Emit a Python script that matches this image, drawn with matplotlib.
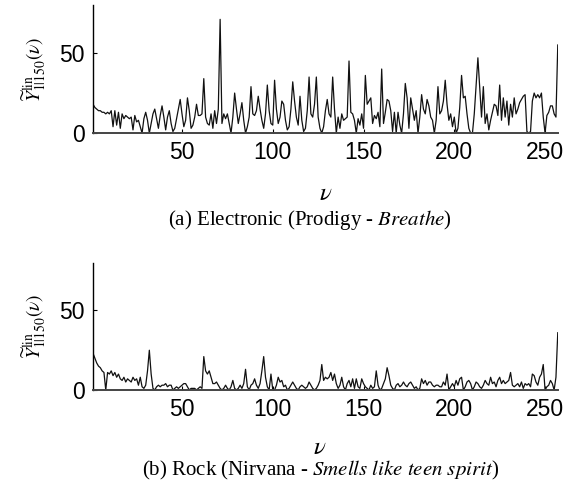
import numpy as np
import matplotlib
matplotlib.use("Agg")
import matplotlib.pyplot as plt

plt.rcParams['mathtext.fontset'] = 'stix'

# spectrum values, nu = 1..257
electronic = [
    18, 16, 15, 14, 14, 13, 13, 12, 13, 12,
    14, 4, 14, 5, 13, 3, 12, 9, 11, 10,
    9, 10, 2, 11, 7, 8, 4, 0, 9, 13,
    8, 0, 6, 12, 15, 9, 3, 11, 17, 10,
    2, 10, 14, 6, 1, 3, 9, 15, 21, 12,
    4, 8, 22, 14, 3, 5, 10, 18, 11, 11,
    12, 34, 10, 6, 5, 12, 3, 14, 6, 15,
    71, 6, 12, 9, 12, 6, 0, 10, 25, 15,
    6, 12, 19, 8, 0, 4, 10, 29, 12, 11,
    14, 23, 15, 8, 3, 12, 30, 14, 6, 5,
    33, 15, 6, 10, 20, 18, 8, 2, 4, 15,
    32, 20, 10, 5, 23, 8, 1, 3, 14, 35,
    12, 10, 18, 35, 10, 3, 0, 4, 14, 21,
    12, 10, 35, 15, 0, 10, 3, 12, 8, 9,
    10, 45, 13, 12, 8, 0, 9, 5, 12, 3,
    36, 18, 20, 22, 6, 11, 9, 13, 4, 40,
    6, 13, 21, 20, 14, 1, 13, 0, 13, 5,
    0, 12, 31, 22, 3, 22, 15, 8, 14, 0,
    10, 24, 15, 12, 21, 17, 10, 8, 0, 8,
    29, 12, 14, 20, 33, 18, 8, 12, 4, 10,
    0, 3, 16, 36, 22, 23, 12, 3, 0, 0,
    12, 30, 47, 29, 10, 29, 6, 12, 2, 8,
    13, 18, 17, 11, 30, 8, 22, 10, 20, 5,
    18, 10, 22, 12, 15, 19, 21, 23, 24, 1,
    0, 1, 20, 25, 22, 24, 22, 25, 10, 0,
    11, 13, 17, 17, 12, 10, 55,
]

rock = [
    23, 20, 17, 15, 14, 12, 11, 0, 11, 10,
    12, 9, 11, 8, 10, 7, 6, 8, 5, 7,
    6, 5, 8, 6, 7, 3, 8, 2, 1, 3,
    12, 25, 10, 1, 0, 2, 3, 2, 3, 3,
    4, 2, 3, 3, 0, 1, 2, 1, 2, 3,
    4, 4, 2, 0, 1, 1, 1, 0, 1, 2,
    1, 21, 12, 10, 12, 8, 4, 4, 5, 3,
    1, 0, 1, 3, 1, 0, 2, 6, 1, 0,
    1, 3, 1, 4, 13, 2, 0, 3, 4, 7,
    3, 1, 4, 12, 21, 8, 2, 0, 10, 0,
    0, 3, 8, 5, 6, 2, 3, 0, 1, 3,
    5, 3, 1, 0, 2, 3, 2, 1, 2, 5,
    3, 1, 0, 1, 3, 6, 16, 6, 8, 7,
    8, 11, 6, 10, 4, 1, 3, 8, 2, 0,
    4, 6, 2, 7, 1, 7, 2, 1, 7, 4,
    2, 1, 0, 3, 1, 2, 12, 3, 0, 1,
    4, 7, 14, 9, 3, 1, 0, 3, 4, 2,
    3, 5, 3, 2, 4, 5, 3, 1, 2, 0,
    1, 7, 4, 6, 3, 5, 5, 3, 2, 3,
    3, 2, 2, 5, 3, 10, 0, 2, 4, 2,
    6, 3, 7, 8, 0, 2, 5, 6, 4, 0,
    2, 5, 4, 2, 1, 3, 6, 4, 3, 8,
    4, 5, 2, 6, 8, 4, 6, 4, 5, 6,
    11, 3, 2, 3, 4, 2, 5, 1, 4, 3,
    4, 2, 10, 9, 5, 3, 8, 10, 16, 0,
    2, 3, 6, 4, 0, 8, 36,
]

captions = [
    r"(a) Electronic (Prodigy - $\it{Breathe}$)",
    r"(b) Rock (Nirvana - $\it{Smells\ like\ teen\ spirit}$)",
]
xticks = [50, 100, 150, 200, 250]
yticks = [0, 50]

fig = plt.figure(figsize=(5.78, 4.93), dpi=100)
ax_rects = [[0.161, 0.730, 0.804, 0.260], [0.161, 0.209, 0.804, 0.258]]
xlab_pos = [(0.563, 0.608), (0.553, 0.093)]
cap_pos = [(0.537, 0.554), (0.554, 0.045)]

for i, vals in enumerate([electronic, rock]):
    ax = fig.add_axes(ax_rects[i])
    nu = np.arange(1, len(vals) + 1)
    ax.plot(nu, vals, color='#111111', lw=0.9)
    ax.set_xlim(1, 257)
    ax.set_ylim(0, 80)
    ax.set_xticks(xticks)
    ax.set_yticks(yticks)
    ax.tick_params(direction='in', length=3, labelsize=16.5, pad=6)
    for lab in ax.get_xticklabels() + ax.get_yticklabels():
        lab.set_family('Liberation Sans')
    ax.spines['top'].set_visible(False)
    ax.spines['right'].set_visible(False)
    ax.spines['left'].set_linewidth(1.0)
    ax.spines['bottom'].set_color('#444444')
    ax.spines['bottom'].set_linewidth(1.4)
    ax.set_ylabel(r"$\widetilde{Y}^{\rm lin}_{1|150}(\nu)$", fontsize=14, labelpad=8)
    fig.text(xlab_pos[i][0], xlab_pos[i][1], r"$\nu$", fontsize=18, ha='center', va='center')
    fig.text(cap_pos[i][0], cap_pos[i][1], captions[i], fontsize=15, ha='center', va='center',
             family='Liberation Serif')

fig.savefig("out.png", dpi=100)
